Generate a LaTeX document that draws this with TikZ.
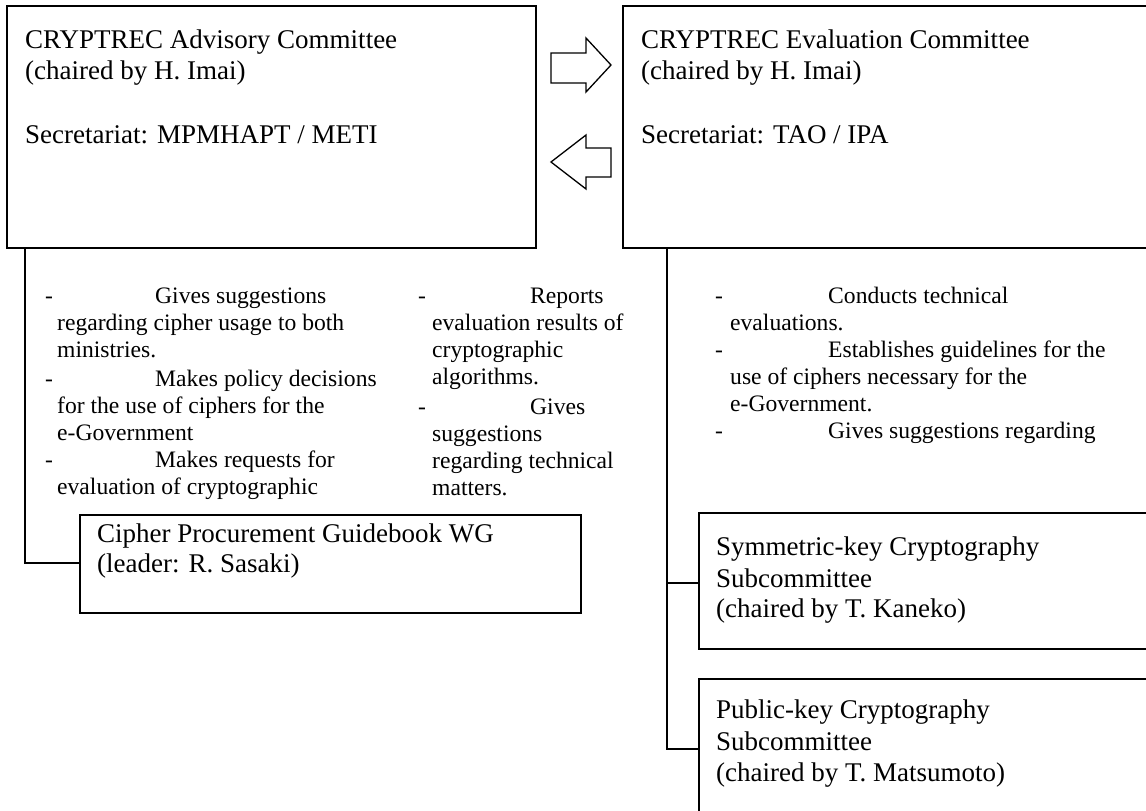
\documentclass[tikz,border=0pt]{standalone}
\usepackage{fontspec}
\setmainfont{Liberation Serif}
\newcommand{\hdfont}{\fontsize{27}{31}\selectfont}
\newcommand{\btfont}{\fontsize{23.6}{27}\selectfont}
\tikzset{
  boxframe/.style={draw=black, line width=1.6pt, inner sep=0pt, outer sep=0pt, anchor=north west},
  hd/.style={anchor=base west, inner sep=0pt, font=\hdfont},
  bt/.style={anchor=base west, inner sep=0pt, font=\btfont},
  link/.style={draw=black, line width=1.4pt},
  blockarrow/.style={draw=black, line width=1.3pt, fill=white, line join=miter}
}
\begin{document}
\begin{tikzpicture}[x=1pt,y=-1pt]
\clip (0,0) rectangle (1146,811);
\fill[white] (0,0) rectangle (1146,811);
% main boxes
\node[boxframe, minimum width=529pt, minimum height=242pt] (advisory) at (7,6) {};
\node[boxframe, minimum width=540pt, minimum height=242pt] (evaluation) at (623,6) {};
\node[boxframe, minimum width=501pt, minimum height=98pt] (wg) at (80,515) {};
\node[boxframe, minimum width=470pt, minimum height=136pt] (sym) at (699,513) {};
\node[boxframe, minimum width=470pt, minimum height=160pt] (pub) at (699,679) {};
% texts in main boxes
\node[hd] (a1) at (25,48) {CRYPTREC Advisory Committee};
\node[hd] (a2) at (25,79) {(chaired by H. Imai)};
\node[hd] (a3) at (25,143) {Secretariat: MPMHAPT / METI};
\node[hd] (b1) at (641,48) {CRYPTREC Evaluation Committee};
\node[hd] (b2) at (641,79) {(chaired by H. Imai)};
\node[hd] (b3) at (641,143) {Secretariat: TAO / IPA};
\node[hd] (w1) at (97,542) {Cipher Procurement Guidebook WG};
\node[hd] (w2) at (97,572) {(leader: R. Sasaki)};
\node[hd] (s1) at (716,555) {Symmetric-key Cryptography};
\node[hd] (s2) at (716,587) {Subcommittee};
\node[hd] (s3) at (716,617) {(chaired by T. Kaneko)};
\node[hd] (p1) at (716,718) {Public-key Cryptography};
\node[hd] (p2) at (716,750) {Subcommittee};
\node[hd] (p3) at (716,781) {(chaired by T. Matsumoto)};
% block arrows
\draw[blockarrow] (551,53) -- (586,53) -- (586,38) -- (611,65) -- (586,92) -- (586,83) -- (551,83) -- cycle;
\draw[blockarrow] (611,148) -- (586,148) -- (586,135) -- (551,162) -- (586,189) -- (586,177) -- (611,177) -- cycle;
% connectors
\coordinate (ajoin) at (25,563);
\draw[link] (advisory.south -| ajoin) -- (ajoin) -- (wg.west |- ajoin);
\coordinate (etop) at (667,248);
\coordinate (ejs) at (667,583);
\coordinate (ejp) at (667,749);
\draw[link] (evaluation.south -| etop) -- (ejp) -- (pub.west |- ejp);
\draw[link] (ejs) -- (sym.west |- ejs);
% left column notes
\node[bt] (l1d) at (45,303) {-};
\node[bt] (l1) at (155,303) {Gives suggestions};
\node[bt] (l2) at (57,330) {regarding cipher usage to both};
\node[bt] (l3) at (57,357) {ministries.};
\node[bt] (l4d) at (45,386) {-};
\node[bt] (l4) at (155,386) {Makes policy decisions};
\node[bt] (l5) at (57,413) {for the use of ciphers for the};
\node[bt] (l6) at (57,440) {e-Government};
\node[bt] (l7d) at (45,467) {-};
\node[bt] (l7) at (155,467) {Makes requests for};
\node[bt] (l8) at (57,494) {evaluation of cryptographic};
% middle column notes
\node[bt] (m1d) at (418,303) {-};
\node[bt] (m1) at (530,303) {Reports};
\node[bt] (m2) at (432,330) {evaluation results of};
\node[bt] (m3) at (432,357) {cryptographic};
\node[bt] (m4) at (432,384) {algorithms.};
\node[bt] (m5d) at (418,414) {-};
\node[bt] (m5) at (530,414) {Gives};
\node[bt] (m6) at (432,441) {suggestions};
\node[bt] (m7) at (432,468) {regarding technical};
\node[bt] (m8) at (432,495) {matters.};
% right column notes
\node[bt] (r1d) at (715,303) {-};
\node[bt] (r1) at (828,303) {Conducts technical};
\node[bt] (r2) at (730,330) {evaluations.};
\node[bt] (r3d) at (715,357) {-};
\node[bt] (r3) at (828,357) {Establishes guidelines for the};
\node[bt] (r4) at (730,384) {use of ciphers necessary for the};
\node[bt] (r5) at (730,411) {e-Government.};
\node[bt] (r6d) at (715,438) {-};
\node[bt] (r6) at (828,438) {Gives suggestions regarding};
\end{tikzpicture}
\end{document}
